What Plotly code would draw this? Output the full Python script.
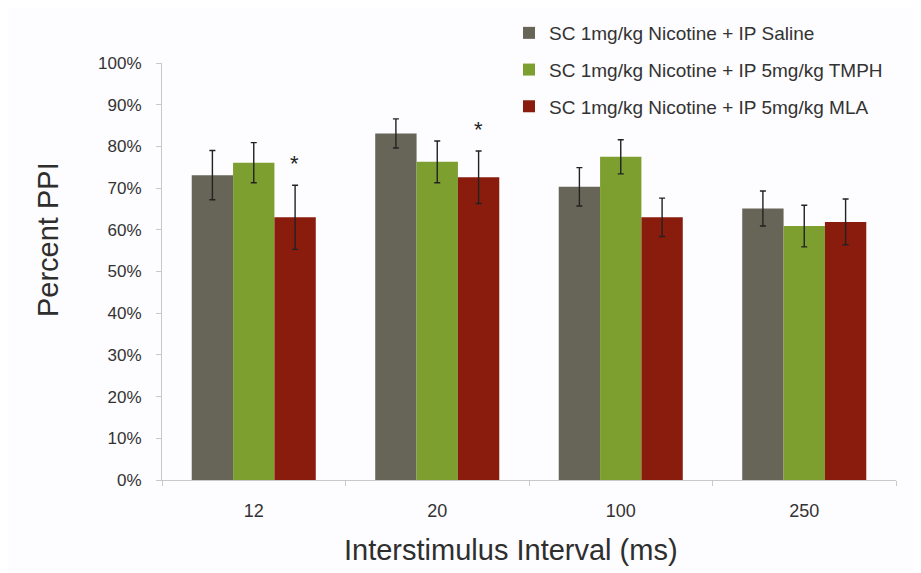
import plotly.graph_objects as go

categories = ["12", "20", "100", "250"]
series_names = [
    "SC 1mg/kg Nicotine + IP Saline",
    "SC 1mg/kg Nicotine + IP 5mg/kg TMPH",
    "SC 1mg/kg Nicotine + IP 5mg/kg MLA",
]
saline = [73.1, 83.1, 70.3, 65.1]
saline_err = [5.9, 3.5, 4.6, 4.2]
tmph = [76.1, 76.3, 77.5, 60.9]
tmph_err = [4.8, 5.0, 4.1, 5.0]
mla = [63.0, 72.6, 63.0, 61.9]
mla_err = [7.7, 6.3, 4.6, 5.5]
colors = ["#676558", "#7d9f30", "#8a1c0d"]
star_categories = ["12", "20"]
star_values = [76.0, 84.0]
y_ticks = [0, 10, 20, 30, 40, 50, 60, 70, 80, 90, 100]
y_ticktext = [f"{v}%" for v in y_ticks]

FONT = "Liberation Sans, Arial"

fig = go.Figure()
for i, (name, vals, errs) in enumerate(zip(series_names, [saline, tmph, mla],
                                           [saline_err, tmph_err, mla_err])):
    fig.add_trace(go.Bar(
        x=categories, y=vals, name=name,
        marker=dict(color=colors[i], line=dict(width=0)),
        error_y=dict(type="data", array=errs, visible=True,
                     color="#222222", thickness=1.4, width=3),
        legendgroup=f"g{i}",
    ))

for c, v in zip(star_categories, star_values):
    fig.add_annotation(x=categories.index(c), y=v, xref="x", yref="y", text="*",
                       showarrow=False, xshift=41,
                       font=dict(size=22, color="#222222", family=FONT))

fig.add_annotation(text="Percent PPI", xref="paper", yref="paper",
                   x=-0.155, y=0.576, xanchor="center", yanchor="middle",
                   textangle=-90, showarrow=False,
                   font=dict(size=29, color="#2e2e2e", family=FONT))
fig.add_annotation(text="Interstimulus Interval (ms)", xref="paper", yref="paper",
                   x=0.4755, y=-0.168, xanchor="center", yanchor="middle",
                   showarrow=False,
                   font=dict(size=29, color="#2e2e2e", family=FONT))

# faint scan border lines
fig.add_shape(type="line", xref="paper", yref="paper", x0=-0.211, x1=1.1,
              y0=1.135, y1=1.135, line=dict(color="#dcdcdc", width=1.5))
fig.add_shape(type="line", xref="paper", yref="paper", x0=-0.211, x1=-0.211,
              y0=1.135, y1=-0.3, line=dict(color="#dcdcdc", width=1.5))

# the page has an 8px body margin, so the figure is shifted by 8px
fig.update_layout(
    width=921, height=573,
    margin=dict(l=154, r=33, t=55, b=101, autoexpand=False),
    paper_bgcolor="#fdfcfe", plot_bgcolor="#fdfcfe",
    barmode="group", bargap=0.324, bargroupgap=0,
    font=dict(family=FONT, color="#333333"),
    showlegend=True,
    legend=dict(xref="container", yref="container", x=0.544, y=0.9895,
                xanchor="left", yanchor="top",
                bgcolor="rgba(0,0,0,0)", font=dict(size=19, color="#333333"),
                traceorder="grouped", tracegroupgap=9,
                itemwidth=30),
    xaxis=dict(type="category", showline=True, linecolor="#c8c8c8", linewidth=1,
               ticks="outside", tickson="boundaries", ticklen=5, tickcolor="#c8c8c8",
               tickfont=dict(size=18, color="#333333"), showgrid=False,
               ticklabelstandoff=14, range=[-0.5, 3.5]),
    yaxis=dict(range=[0, 100], tickvals=y_ticks, ticktext=y_ticktext,
               showline=True, linecolor="#c8c8c8", linewidth=1,
               ticks="outside", ticklen=5, tickcolor="#c8c8c8",
               tickfont=dict(size=17, color="#333333"), showgrid=False,
               ticklabelstandoff=11, zeroline=False),
)

fig.write_html("out.html")
